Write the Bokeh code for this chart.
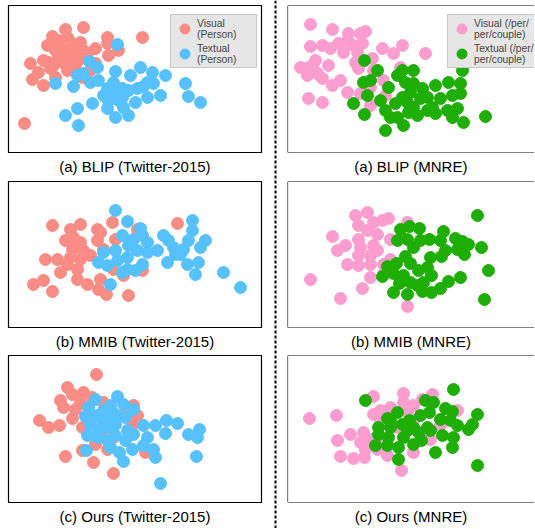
from bokeh.plotting import figure
from bokeh.layouts import row, column
from bokeh.models import Range1d, Legend, LegendItem, Span
from bokeh.embed import file_html
from bokeh.resources import INLINE

SALMON = "#F98C84"
BLUE = "#56C1FD"
PINK = "#FB9DCF"
GREEN = "#1EAE06"

captions = ["(a) BLIP (Twitter-2015)", "(a) BLIP (MNRE)",
            "(b) MMIB (Twitter-2015)", "(b) MMIB (MNRE)",
            "(c) Ours (Twitter-2015)", "(c) Ours (MNRE)"]
labels_tw = ["Visual\n(Person)", "Textual\n(Person)"]
labels_mnre = ["Visual (/per/\nper/couple)", "Textual (/per/\nper/couple)"]

# (a) BLIP, Twitter-2015
blip_tw_vis_x = [75,57,44,39,50,59,64,72,75,55,47,35,22,30,24,35,47,54,62,70,67,74,87,87,99,99,110,100,134,16,42,59,50,79,40,69,60,52,45,62,82]
blip_tw_vis_y = [125,123,116,107,112,115,109,110,102,102,102,92,89,80,73,67,75,90,94,92,84,75,104,89,115,109,102,97,115,29,84,82,95,99,90,102,102,105,87,87,82]
blip_tw_txt_x = [109,81,89,47,65,69,75,82,90,107,122,132,144,157,177,145,135,139,152,180,192,127,120,114,105,99,105,100,110,115,99,107,120,84,69,57,70,114,95,107,129,139]
blip_tw_txt_y = [108,91,85,69,66,77,79,70,72,81,77,85,80,77,69,69,66,55,57,56,50,50,62,64,70,64,57,52,52,45,44,35,37,49,44,37,27,55,57,64,64,70]

# (a) BLIP, MNRE
blip_mn_vis_x = [23,45,61,73,78,23,35,43,51,60,66,75,56,70,13,21,28,20,30,41,35,45,53,60,21,35,68,71,85,86,95,106,115,138,113,96,98,83,73,83,26]
blip_mn_vis_y = [128,123,119,119,121,106,107,104,109,112,107,109,100,100,85,85,92,77,79,87,74,67,72,60,54,50,90,84,94,82,104,99,107,99,85,72,57,47,59,65,82]
blip_mn_txt_x = [77,90,76,83,80,66,77,101,93,98,103,98,116,110,110,115,126,118,126,135,123,115,108,120,126,133,140,148,161,153,145,148,160,165,173,173,170,165,176,175,198,130,121,140]
blip_mn_txt_y = [92,82,70,72,57,49,38,65,52,42,35,22,27,35,77,82,82,70,69,64,60,55,49,50,45,54,55,67,70,54,45,39,42,57,69,59,44,35,30,82,36,37,40,42]

# (b) MMIB, Twitter-2015
mmib_tw_vis_x = [44,62,72,89,104,92,57,72,89,64,75,82,37,49,62,72,59,52,69,69,79,92,90,98,25,35,44,120,107,105,115,134,129,169,95,65]
mmib_tw_vis_y = [102,98,103,98,105,95,87,85,87,78,77,72,68,68,70,68,63,55,58,48,43,48,38,33,43,47,36,32,88,58,52,57,98,104,78,90]
mmib_tw_txt_x = [107,119,114,132,134,125,120,129,139,139,149,95,90,99,107,109,119,114,127,134,102,155,160,165,159,172,180,184,184,192,197,179,190,187,215,232,119,167,175]
mmib_tw_txt_y = [117,106,92,99,92,88,82,77,85,75,77,75,65,62,77,67,70,55,57,63,43,92,87,80,65,73,87,107,97,80,87,63,65,53,55,40,58,73,78]

# (b) MMIB, MNRE
mmib_mn_vis_x = [68,80,86,71,95,101,45,58,50,71,80,90,103,73,86,71,83,90,60,71,83,83,96,23,53,75,120,120,103,96,116]
mmib_mn_vis_y = [112,115,105,102,107,109,91,82,77,88,97,93,88,80,82,72,72,77,63,62,63,50,53,48,29,39,21,105,68,63,47]
mmib_mn_txt_x = [113,122,132,110,120,126,133,142,153,156,168,175,181,170,177,194,190,143,154,158,118,123,100,109,95,106,116,112,123,106,120,131,140,144,136,135,144,153,161,173,201,197,130]
mmib_mn_txt_y = [98,101,99,87,88,80,87,88,87,96,89,86,83,78,73,80,112,70,71,77,71,64,61,64,51,54,52,44,45,35,33,57,60,52,45,36,35,39,46,50,57,28,42]

# (c) Ours, Twitter-2015
ours_tw_vis_x = [88,59,52,64,75,72,55,67,84,95,102,125,31,40,51,64,74,85,92,87,99,74,57,85,105,124,129,137,115,80,105]
ours_tw_vis_y = [128,115,102,108,110,100,95,93,105,100,93,97,82,75,77,84,75,85,68,58,53,52,46,40,29,77,87,50,87,95,65]
ours_tw_txt_x = [87,109,102,115,125,80,77,89,95,107,117,82,90,99,107,119,79,89,99,107,117,125,135,147,158,169,157,139,135,124,145,147,111,115,78,102,180,189,191,188,152,95,102]
ours_tw_txt_y = [103,106,97,98,93,95,86,87,82,88,85,78,73,75,78,72,67,65,62,67,62,68,77,77,82,79,69,65,57,53,53,45,50,41,52,55,68,65,73,46,19,92,83]

# (c) Ours, MNRE
ours_mn_vis_x = [22,49,86,116,116,126,135,145,170,93,103,86,120,50,63,76,73,83,53,66,77,78,90,100,114,126,143,153,93,110,126,90,135]
ours_mn_vis_y = [84,87,106,109,100,97,103,108,92,92,95,88,90,62,68,70,60,63,46,44,45,53,53,47,32,50,63,77,80,75,82,65,63]
ours_mn_txt_x = [78,166,138,146,158,165,110,100,122,133,142,153,163,170,190,185,181,91,103,115,126,140,91,101,116,131,143,155,166,88,100,111,126,134,165,148,111,190,103,120]
ours_mn_txt_y = [102,113,102,100,94,91,90,84,82,87,90,83,82,77,88,78,73,75,75,78,75,75,68,65,65,70,72,67,65,57,57,55,58,62,55,50,43,37,82,72]

FONT = "Liberation Sans"


def panel(vx, vy, tx, ty, cv, ct, caption, side, fh, height, top, legend_labels=None):
    if side == "left":
        fw, bl, br = 253, 8, 8
    else:
        fw, bl, br = 247, 6, 0
    p = figure(width=bl + fw + br, height=height, output_backend="svg", toolbar_location=None,
               x_range=Range1d(0, fw), y_range=Range1d(0, fh),
               x_axis_location=None, y_axis_location=None,
               min_border_left=bl, min_border_right=br, min_border_top=top,
               min_border_bottom=height - fh - top,
               title=caption, title_location="below")
    p.grid.visible = False
    p.background_fill_color = "white"
    p.border_fill_color = "white"
    if side == "left":
        p.outline_line_color = "black"
        p.outline_line_width = 1.2
    else:
        # the frame runs on past the right edge of the page: no right border
        p.outline_line_color = None
        for loc, dim in ((0, "width"), (fh, "width"), (0, "height")):
            p.add_layout(Span(location=loc, dimension=dim, line_color="black", line_width=1.2))
    p.title.align = "center"
    p.title.text_font = FONT
    p.title.text_font_size = "15px"
    p.title.text_font_style = "normal"
    p.title.text_color = "black"
    p.title.standoff = 6
    rv = p.scatter(vx, vy, size=12, fill_color=cv, line_color=cv)
    rt = p.scatter(tx, ty, size=12, fill_color=ct, line_color=ct)
    if legend_labels:
        if side == "left":
            loc, standoff, lw = (162, 84), -3, 58
        else:
            loc, standoff, lw = (160, 84), -12, 75
        leg = Legend(items=[LegendItem(label=legend_labels[0], renderers=[rv]),
                            LegendItem(label=legend_labels[1], renderers=[rt])],
                     location=loc,
                     background_fill_color="#E6E6E6", background_fill_alpha=1.0,
                     border_line_color="#A8A8A8", border_line_width=1,
                     label_text_font=FONT, label_text_font_size="10.3px",
                     label_text_line_height=1.2, label_text_align="center",
                     glyph_width=25, glyph_height=25, padding=1, spacing=0,
                     margin=0, label_standoff=standoff, label_width=lw)
        p.add_layout(leg)
    return p


a1 = panel(blip_tw_vis_x, blip_tw_vis_y, blip_tw_txt_x, blip_tw_txt_y, SALMON, BLUE, captions[0], "left", 147, 181, 5, labels_tw)
a2 = panel(blip_mn_vis_x, blip_mn_vis_y, blip_mn_txt_x, blip_mn_txt_y, PINK, GREEN, captions[1], "right", 147, 181, 5, labels_mnre)
b1 = panel(mmib_tw_vis_x, mmib_tw_vis_y, mmib_tw_txt_x, mmib_tw_txt_y, SALMON, BLUE, captions[2], "left", 146, 174, 0)
b2 = panel(mmib_mn_vis_x, mmib_mn_vis_y, mmib_mn_txt_x, mmib_mn_txt_y, PINK, GREEN, captions[3], "right", 146, 174, 0)
c1 = panel(ours_tw_vis_x, ours_tw_vis_y, ours_tw_txt_x, ours_tw_txt_y, SALMON, BLUE, captions[4], "left", 147, 173, 0)
c2 = panel(ours_mn_vis_x, ours_mn_vis_y, ours_mn_txt_x, ours_mn_txt_y, PINK, GREEN, captions[5], "right", 147, 173, 0)

sep = figure(width=12, height=528, output_backend="svg", toolbar_location=None,
             x_range=Range1d(0, 1), y_range=Range1d(0, 1),
             x_axis_location=None, y_axis_location=None,
             min_border=0, outline_line_color=None)
sep.grid.visible = False
sep.add_layout(Span(location=0.5, dimension="height", line_color="black",
                    line_width=2, line_dash="3 2"))

layout = row(column(a1, b1, c1), sep, column(a2, b2, c2))

open("out.html", "w").write(file_html(layout, INLINE))
